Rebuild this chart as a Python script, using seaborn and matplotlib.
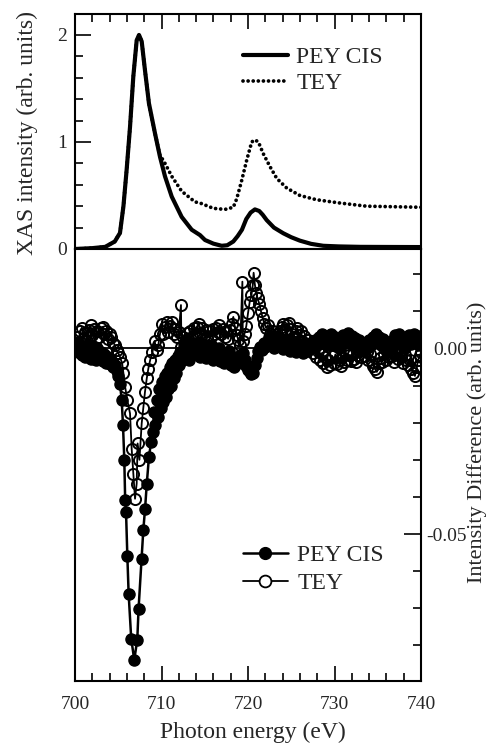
import numpy as np
import pandas as pd
import matplotlib
matplotlib.use("Agg")
import matplotlib.pyplot as plt
from matplotlib.lines import Line2D
from matplotlib.ticker import MultipleLocator, FixedLocator, FormatStrFormatter
import seaborn as sns

# ---------------- data: top panel (XAS spectra) ----------------
pey_energy = [700.0, 702.0, 703.5, 704.6, 705.2, 705.6, 705.97, 706.36, 706.74, 707.13,
              707.4, 707.71, 708.09, 708.55, 709.25, 709.83, 710.4, 711.18, 712.33, 713.49,
              714.45, 715.03, 716.0, 716.96, 717.6, 718.3, 718.8, 719.3, 719.8, 720.3,
              720.8, 721.3, 721.7, 722.16, 723.0, 724.08, 725.0, 726.0, 727.3, 728.7,
              730.5, 733.0, 736.0, 740.0]
pey_xas = [0.0, 0.008, 0.02, 0.07, 0.15, 0.40, 0.74, 1.14, 1.61, 1.95,
           2.00, 1.94, 1.67, 1.36, 1.08, 0.86, 0.68, 0.49, 0.30, 0.18,
           0.13, 0.084, 0.05, 0.03, 0.035, 0.07, 0.12, 0.18, 0.28, 0.34,
           0.37, 0.355, 0.32, 0.27, 0.20, 0.147, 0.11, 0.078, 0.048, 0.03,
           0.024, 0.02, 0.019, 0.018]

tey_energy = [700.0, 702.0, 703.5, 704.6, 705.2, 705.6, 705.97, 706.36, 706.74, 707.13,
              707.4, 707.71, 708.09, 708.55, 709.25, 709.83, 710.21, 711.18, 712.33, 713.87,
              714.45, 715.99, 717.34, 718.3, 718.7, 719.27, 719.85, 720.43, 720.8, 721.2,
              721.77, 722.54, 723.32, 724.47, 726.0, 727.94, 730.6, 733.7, 740.0]
tey_xas = [0.0, 0.008, 0.02, 0.07, 0.15, 0.40, 0.74, 1.14, 1.61, 1.95,
           2.00, 1.94, 1.67, 1.36, 1.08, 0.87, 0.83, 0.68, 0.54, 0.44,
           0.43, 0.38, 0.37, 0.39, 0.47, 0.64, 0.83, 1.00, 1.02, 1.00,
           0.89, 0.77, 0.66, 0.57, 0.50, 0.46, 0.43, 0.40, 0.39]

# ---------------- data: bottom panel (intensity difference) ----------------
diff_pey_energy = [
    700.0, 700.2, 700.4, 700.6, 700.8, 701.0, 701.2, 701.4, 701.6, 701.8,
    702.0, 702.2, 702.4, 702.6, 702.8, 703.0, 703.2, 703.4, 703.6, 703.8,
    704.0, 704.2, 704.4, 704.6, 704.8, 705.0,
    705.2, 705.4, 705.55, 705.7, 705.8, 705.9, 706.05, 706.2, 706.5, 706.85,
    707.2, 707.35, 707.7, 707.9, 708.1, 708.3, 708.55, 708.8,
    709.0, 709.15, 709.3, 709.45, 709.6, 709.75, 709.9, 710.05, 710.2, 710.35,
    710.5, 710.65, 710.8, 710.95, 711.1, 711.25, 711.4, 711.55, 711.7, 711.85,
    712.0, 712.15, 712.3,
    712.4, 712.6, 712.8, 713.0, 713.2, 713.4, 713.6, 713.8, 714.0, 714.2,
    714.4, 714.6, 714.8, 715.0, 715.2, 715.4, 715.6, 715.8, 716.0, 716.2,
    716.4, 716.6, 716.8, 717.0, 717.2, 717.4, 717.6, 717.8, 718.0, 718.2,
    718.4, 718.6, 718.8, 719.0, 719.2, 719.4, 719.6, 719.8, 720.0, 720.2,
    720.4, 720.6, 720.8, 721.0, 721.2, 721.4, 721.6, 721.8, 722.0,
    722.2, 722.4, 722.6, 722.8, 723.0, 723.2, 723.4, 723.6, 723.8, 724.0,
    724.2, 724.4, 724.6, 724.8, 725.0, 725.2, 725.4, 725.6, 725.8, 726.0,
    726.2, 726.4, 726.6, 726.8, 727.0, 727.2, 727.4, 727.6, 727.8, 728.0,
    728.2, 728.4, 728.6, 728.8, 729.0, 729.2, 729.4, 729.6, 729.8, 730.0,
    730.2, 730.4, 730.6, 730.8, 731.0, 731.2, 731.4, 731.6, 731.8, 732.0,
    732.2, 732.4, 732.6, 732.8, 733.0, 733.2, 733.4, 733.6, 733.8, 734.0,
    734.2, 734.4, 734.6, 734.8, 735.0, 735.2, 735.4, 735.6, 735.8, 736.0,
    736.2, 736.4, 736.6, 736.8, 737.0, 737.2, 737.4, 737.6, 737.8, 738.0,
    738.2, 738.4, 738.6, 738.8, 739.0, 739.2, 739.4, 739.6, 739.8, 740.0]
diff_pey = [
    -0.0005, 0.0012, -0.0010, 0.0008, -0.0018, 0.0004, -0.0022, 0.0010, -0.0012, -0.0028,
    0.0006, -0.0016, -0.0030, 0.0002, -0.0024, -0.0010, -0.0034, -0.0014, -0.0038, -0.0022,
    -0.0042, -0.0030, -0.0050, -0.0045, -0.0062, -0.0075,
    -0.0095, -0.0140, -0.0207, -0.0300, -0.0409, -0.0441, -0.0558, -0.0661, -0.0782, -0.0839,
    -0.0785, -0.0701, -0.0567, -0.0488, -0.0432, -0.0364, -0.0292, -0.0252,
    -0.0225, -0.0170, -0.0205, -0.0140, -0.0185, -0.0110, -0.0160, -0.0090, -0.0145, -0.0075,
    -0.0130, -0.0065, -0.0110, -0.0050, -0.0100, -0.0040, -0.0080, -0.0030, -0.0065, -0.0020,
    -0.0045, -0.0010, -0.0035,
    -0.0008, 0.0012, -0.0020, 0.0005, -0.0030, 0.0010, -0.0015, 0.0016, -0.0010, 0.0008,
    -0.0022, 0.0014, -0.0012, 0.0004, -0.0026, 0.0010, -0.0018, 0.0006, -0.0030, -0.0004,
    -0.0024, 0.0002, -0.0034, -0.0012, -0.0040, -0.0016, -0.0036, -0.0008, -0.0045, -0.0022,
    -0.0050, -0.0028, -0.0040, -0.0020, -0.0035, -0.0012, -0.0030, -0.0048, -0.0058, -0.0064,
    -0.0070, -0.0067, -0.0045, -0.0025, -0.0008, 0.0005, -0.0004, 0.0014, 0.0004,
    0.0018, 0.0030, 0.0008, 0.0024, 0.0002, 0.0020, 0.0034, 0.0012, 0.0026, -0.0002,
    0.0016, 0.0004, 0.0022, -0.0006, 0.0014, 0.0000, 0.0018, -0.0010, 0.0008, -0.0004,
    0.0012, -0.0012, 0.0004, -0.0008, 0.0010, -0.0002, 0.0016, 0.0004, 0.0024, 0.0008,
    0.0030, 0.0014, 0.0038, 0.0020, 0.0032, 0.0010, 0.0028, 0.0040, 0.0018, 0.0030,
    0.0006, 0.0024, 0.0002, 0.0020, 0.0036, 0.0014, 0.0032, 0.0042, 0.0020, 0.0034,
    0.0012, 0.0028, 0.0004, 0.0022, 0.0000, 0.0016, -0.0004, 0.0014, 0.0002, 0.0024,
    0.0008, 0.0030, 0.0014, 0.0038, 0.0020, 0.0032, 0.0010, 0.0026, 0.0004, 0.0018,
    -0.0006, 0.0010, -0.0002, 0.0022, 0.0036, 0.0016, 0.0040, 0.0024, 0.0008, 0.0028,
    0.0002, 0.0020, 0.0036, 0.0012, 0.0030, 0.0040, 0.0018, 0.0034, 0.0010, 0.0026]

diff_tey_energy = [
    700.0, 700.2, 700.4, 700.6, 700.8, 701.0, 701.2, 701.4, 701.6, 701.8,
    702.0, 702.2, 702.4, 702.6, 702.8, 703.0, 703.2, 703.4, 703.6, 703.8,
    704.0, 704.2, 704.4, 704.6, 704.8, 705.0,
    705.2, 705.45, 705.6, 705.8, 706.05, 706.36, 706.55, 706.74, 706.94, 707.13,
    707.24, 707.45, 707.71, 707.9, 708.09, 708.3, 708.48, 708.7, 708.95, 709.2,
    709.44, 709.63, 709.83,
    710.02, 710.2, 710.4, 710.6, 710.8, 711.0, 711.18, 711.4, 711.6, 711.8,
    712.0, 712.25, 712.3, 712.5, 712.7, 712.9, 713.1, 713.3, 713.5, 713.7,
    713.9, 714.1, 714.3, 714.5, 714.7, 714.9, 715.1, 715.3, 715.5, 715.7,
    715.9, 716.1, 716.3, 716.5, 716.7, 716.9, 717.1, 717.3, 717.5, 717.7,
    717.9, 718.1, 718.3, 718.5, 718.7, 718.9, 719.1, 719.35, 719.4, 719.6,
    719.8, 720.0, 720.2, 720.4, 720.55, 720.65, 720.8, 720.95, 721.1, 721.3,
    721.5, 721.7, 721.9, 722.1, 722.3, 722.5, 722.7, 722.9, 723.1, 723.3,
    723.5, 723.7, 723.9, 724.1, 724.3, 724.5, 724.7, 724.9, 725.1, 725.3,
    725.5, 725.7, 725.9, 726.1, 726.3, 726.5, 726.7, 726.9, 727.1, 727.3,
    727.5, 727.7, 727.9, 728.1, 728.3, 728.5, 728.7, 728.9, 729.1, 729.3,
    729.5, 729.7, 729.9, 730.1, 730.3, 730.5, 730.7, 730.9, 731.1, 731.3,
    731.5, 731.7, 731.9, 732.1, 732.3, 732.5, 732.7, 732.9, 733.1, 733.3,
    733.5, 733.7, 733.9, 734.1, 734.3, 734.5, 734.7, 734.9, 735.1, 735.3,
    735.5, 735.7, 735.9, 736.1, 736.3, 736.5, 736.7, 736.9, 737.1, 737.3,
    737.5, 737.7, 737.9, 738.1, 738.3, 738.5, 738.7, 738.9, 739.1, 739.3,
    739.5, 739.7, 739.9, 740.0]
diff_tey = [
    0.0010, 0.0030, 0.0015, 0.0048, 0.0056, 0.0028, 0.0042, 0.0020, 0.0050, 0.0062,
    0.0036, 0.0052, 0.0026, 0.0046, 0.0030, 0.0055, 0.0058, 0.0040, 0.0048, 0.0026,
    0.0040, 0.0032, 0.0016, 0.0010, -0.0004, -0.0012,
    -0.0023, -0.0040, -0.0067, -0.0104, -0.0140, -0.0175, -0.0270, -0.0337, -0.0405, -0.0364,
    -0.0256, -0.0300, -0.0202, -0.0160, -0.0117, -0.0080, -0.0054, -0.0030, -0.0010, 0.0020,
    -0.0005, 0.0009, 0.0040,
    0.0067, 0.0040, 0.0058, 0.0072, 0.0045, 0.0060, 0.0072, 0.0040, 0.0052, 0.0030,
    0.0044, 0.0117, 0.0005, 0.0030, 0.0018, 0.0042, 0.0026, 0.0048, 0.0030, 0.0054,
    0.0036, 0.0058, 0.0067, 0.0042, 0.0056, 0.0034, 0.0050, 0.0028, 0.0046, 0.0032,
    0.0052, 0.0038, 0.0056, 0.0044, 0.0063, 0.0040, 0.0052, 0.0030, 0.0046, 0.0026,
    0.0050, 0.0066, 0.0085, 0.0055, 0.0036, 0.0022, 0.0010, 0.0180, 0.0020, 0.0040,
    0.0060, 0.0095, 0.0126, 0.0144, 0.0170, 0.0204, 0.0171, 0.0150, 0.0135, 0.0121,
    0.0100, 0.0082, 0.0066, 0.0055, 0.0063, 0.0040, 0.0030, 0.0046, 0.0024, 0.0040,
    0.0020, 0.0048, 0.0058, 0.0066, 0.0050, 0.0062, 0.0069, 0.0052, 0.0040, 0.0030,
    0.0046, 0.0054, 0.0036, 0.0048, 0.0020, 0.0034, 0.0012, 0.0024, 0.0000, 0.0014,
    -0.0012, 0.0004, -0.0024, -0.0008, -0.0030, -0.0016, -0.0040, -0.0022, -0.0050, -0.0032,
    -0.0044, -0.0020, -0.0038, -0.0016, -0.0042, -0.0030, -0.0046, -0.0024, -0.0036, -0.0012,
    -0.0030, -0.0018, -0.0034, -0.0014, -0.0028, -0.0036, -0.0018, -0.0008, -0.0024, -0.0004,
    -0.0020, -0.0010, -0.0030, -0.0014, -0.0036, -0.0048, -0.0056, -0.0063, -0.0040, -0.0026,
    -0.0036, -0.0016, -0.0030, -0.0010, -0.0024, -0.0006, -0.0020, -0.0036, -0.0014, -0.0028,
    -0.0008, -0.0022, -0.0038, -0.0018, -0.0032, -0.0044, -0.0030, -0.0054, -0.0066, -0.0074,
    -0.0050, -0.0030, -0.0018, -0.0010]

series_labels = ["PEY CIS", "TEY"]
x_ticks = [700, 710, 720, 730, 740]
top_y_ticks = [0, 1, 2]
bottom_y_ticks = [-0.05, 0.00]

# ---------------- style ----------------
sns.set_theme(style="ticks")
plt.rcParams["font.family"] = ["Liberation Serif", "DejaVu Serif"]
plt.rcParams["axes.unicode_minus"] = False
plt.rcParams["axes.linewidth"] = 1.5

LABEL_FS = 17
TICK_FS = 14
DOTS = (0, (0.01, 1.35))

fig = plt.figure(figsize=(4.92, 7.47), dpi=100)
ax1 = fig.add_axes([75 / 492, 1 - 249 / 747, 346 / 492, 235 / 747])
ax2 = fig.add_axes([75 / 492, 1 - 681 / 747, 346 / 492, 432 / 747])

# ---------------- top panel ----------------
top_pey = pd.DataFrame({"energy": pey_energy, "value": pey_xas})
top_tey = pd.DataFrame({"energy": tey_energy, "value": tey_xas})
sns.lineplot(data=top_tey, x="energy", y="value", ax=ax1, color="black",
             lw=2.7, estimator=None, sort=False, legend=False)
sns.lineplot(data=top_pey, x="energy", y="value", ax=ax1, color="black",
             lw=3.0, estimator=None, sort=False, legend=False)
tey_line, pey_line = ax1.lines[0], ax1.lines[1]
tey_line.set_linestyle(DOTS)
tey_line.set_dash_capstyle("round")
pey_line.set_solid_capstyle("round")
pey_line.set_solid_joinstyle("round")

ax1.set_xlim(700, 740)
ax1.set_ylim(0, 2.196)
ax1.yaxis.set_major_locator(FixedLocator(top_y_ticks))
ax1.yaxis.set_minor_locator(MultipleLocator(0.2))
ax1.xaxis.set_major_locator(FixedLocator(x_ticks))
ax1.xaxis.set_minor_locator(MultipleLocator(2))
ax1.tick_params(axis="y", which="both", direction="in", left=True, right=False,
                labelleft=True, labelsize=TICK_FS, pad=6, width=1.4)
ax1.tick_params(axis="y", which="major", length=11.5)
ax1.tick_params(axis="y", which="minor", length=6)
ax1.tick_params(axis="x", which="both", direction="in", top=True, bottom=False,
                labeltop=False, labelbottom=False, width=1.4)
ax1.tick_params(axis="x", which="major", length=10.5)
ax1.tick_params(axis="x", which="minor", length=6)
ax1.set_xlabel("")
ax1.set_ylabel("XAS intensity (arb. units)", fontsize=LABEL_FS)
ax1.yaxis.set_label_coords(-0.107, 0.494)
for s in ax1.spines.values():
    s.set_linewidth(1.5)
    s.set_color("black")

top_handles = [Line2D([], [], color="black", lw=3.0),
               Line2D([], [], color="black", lw=2.7, linestyle=DOTS, dash_capstyle="round")]
ax1.legend(top_handles, series_labels, loc="upper left", bbox_to_anchor=(0.486, 0.86),
           frameon=False, fontsize=LABEL_FS, handlelength=1.9, handletextpad=0.35,
           labelspacing=0.17, borderpad=0, borderaxespad=0)

# ---------------- bottom panel ----------------
ax2.axhline(0, color="black", lw=1.3, zorder=1)
bot_pey = pd.DataFrame({"energy": diff_pey_energy, "value": diff_pey})
bot_tey = pd.DataFrame({"energy": diff_tey_energy, "value": diff_tey})
sns.lineplot(data=bot_pey, x="energy", y="value", ax=ax2, color="black", lw=1.8,
             marker="o", markersize=8.0, markerfacecolor="black", markeredgecolor="black",
             markeredgewidth=1.0, estimator=None, sort=False, legend=False, zorder=2)
sns.lineplot(data=bot_tey, x="energy", y="value", ax=ax2, color="black", lw=1.3,
             marker="o", markersize=8.0, markerfacecolor="none", markeredgecolor="black",
             markeredgewidth=1.4, estimator=None, sort=False, legend=False, zorder=3)

ax2.set_xlim(700, 740)
ax2.set_ylim(-0.0896, 0.0268)
ax2.xaxis.set_major_locator(FixedLocator(x_ticks))
ax2.xaxis.set_minor_locator(MultipleLocator(2))
ax2.yaxis.set_major_locator(FixedLocator(bottom_y_ticks))
ax2.yaxis.set_minor_locator(MultipleLocator(0.01))
ax2.yaxis.set_major_formatter(FormatStrFormatter("%.2f"))
ax2.tick_params(axis="x", which="both", direction="in", bottom=True, top=False,
                labelbottom=True, labelsize=TICK_FS, pad=11, width=1.4)
ax2.tick_params(axis="x", which="major", length=10.5)
ax2.tick_params(axis="x", which="minor", length=6)
ax2.tick_params(axis="y", which="both", direction="in", left=False, right=True,
                labelleft=False, labelright=True, labelsize=TICK_FS, pad=33.1, width=1.4)
ax2.tick_params(axis="y", which="major", length=12)
ax2.tick_params(axis="y", which="minor", length=6)
for lbl in ax2.yaxis.get_majorticklabels():
    lbl.set_horizontalalignment("right")
ax2.set_xlabel("Photon energy (eV)", fontsize=LABEL_FS)
ax2.xaxis.set_label_coords(0.515, -0.095)
ax2.xaxis.label.set_verticalalignment("top")
ax2.yaxis.set_label_position("right")
ax2.set_ylabel("Intensity Difference (arb. units)", fontsize=16)
ax2.yaxis.set_label_coords(1.1345, 0.553)
for s in ax2.spines.values():
    s.set_linewidth(1.5)
    s.set_color("black")

bot_handles = [Line2D([], [], color="black", lw=1.8, marker="o", markersize=8.5,
                      markerfacecolor="black", markeredgecolor="black"),
               Line2D([], [], color="black", lw=1.3, marker="o", markersize=8.5,
                      markerfacecolor="white", markeredgecolor="black", markeredgewidth=1.3)]
ax2.legend(bot_handles, series_labels, loc="upper left", bbox_to_anchor=(0.485, 0.316),
           frameon=False, fontsize=LABEL_FS, handlelength=1.9, handletextpad=0.4,
           labelspacing=0.29, borderpad=0, borderaxespad=0)

fig.savefig("out.png", dpi=100)
